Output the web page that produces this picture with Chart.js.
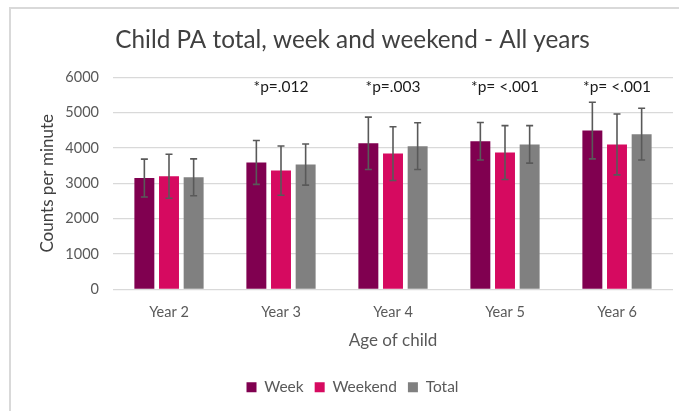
<!DOCTYPE html>
<html>
<head>
<meta charset="utf-8">
<script src="https://cdn.jsdelivr.net/npm/chart.js@4"></script>
<style>
  body { margin: 0; background: #fff; }
  #box {
    position: absolute; left: 9px; top: 7px;
    width: 670px; height: 404px;
    border-top: 2px solid #d9d9d9; border-left: 2px solid #d9d9d9;
  }
  #box canvas { display: block; }
</style>
</head>
<body>
<div id="box"><canvas id="chart" width="670" height="404"></canvas></div>
<script>
  const years = ["Year 2", "Year 3", "Year 4", "Year 5", "Year 6"];
  const week = [3150, 3590, 4130, 4190, 4490];
  const weekend = [3200, 3360, 3840, 3870, 4100];
  const total = [3170, 3530, 4050, 4100, 4390];
  // standard deviations for the error bars
  const weekSd = [535, 620, 740, 530, 800];
  const weekendSd = [620, 695, 760, 760, 860];
  const totalSd = [520, 580, 660, 530, 730];
  // significance labels over each year
  const pLabels = ["", "*p=.012", "*p=.003", "*p= <.001", "*p= <.001"];
  const pLabelY = 5720;

  const FONT = "Lato, 'Open Sans', sans-serif";

  // draws +/- sd whiskers on each bar
  const errorBars = {
    id: "errorBars",
    afterDatasetsDraw(chart) {
      const ctx = chart.ctx;
      const y = chart.scales.y;
      ctx.save();
      ctx.strokeStyle = "#595959";
      ctx.lineWidth = 1.6;
      chart.data.datasets.forEach((ds, i) => {
        const meta = chart.getDatasetMeta(i);
        meta.data.forEach((bar, j) => {
          const v = ds.data[j];
          const sd = ds.sd[j];
          const top = y.getPixelForValue(v + sd);
          const bot = y.getPixelForValue(v - sd);
          ctx.beginPath();
          ctx.moveTo(bar.x, top);
          ctx.lineTo(bar.x, bot);
          ctx.moveTo(bar.x - 3.5, top);
          ctx.lineTo(bar.x + 3.5, top);
          ctx.moveTo(bar.x - 3.5, bot);
          ctx.lineTo(bar.x + 3.5, bot);
          ctx.stroke();
        });
      });
      ctx.restore();
    }
  };

  // p-value text above each group
  const pValues = {
    id: "pValues",
    afterDraw(chart) {
      const ctx = chart.ctx;
      const x = chart.scales.x;
      const y = chart.scales.y;
      ctx.save();
      ctx.font = "15.5px " + FONT;
      ctx.fillStyle = "#1a1a1a";
      ctx.textAlign = "center";
      ctx.textBaseline = "middle";
      pLabels.forEach((t, i) => {
        if (t) ctx.fillText(t, x.getPixelForValue(i), y.getPixelForValue(pLabelY));
      });
      ctx.restore();
    }
  };

  new Chart(document.getElementById("chart"), {
    type: "bar",
    data: {
      labels: years,
      datasets: [
        { label: "Week", data: week, sd: weekSd, backgroundColor: "#800050" },
        { label: "Weekend", data: weekend, sd: weekendSd, backgroundColor: "#d60a60" },
        { label: "Total", data: total, sd: totalSd, backgroundColor: "#808080" },
      ],
    },
    options: {
      responsive: false,
      animation: false,
      categoryPercentage: 0.66,
      barPercentage: 0.81,
      layout: { padding: { left: 21, right: 8, top: 0, bottom: 8 } },
      scales: {
        x: {
          grid: { display: false, drawTicks: false },
          border: { display: false },
          ticks: { color: "#595959", font: { family: FONT, size: 14.5 }, padding: 14 },
          title: {
            display: true,
            text: "Age of child",
            color: "#595959",
            font: { family: FONT, size: 17 },
            padding: { top: 8, bottom: 18 },
          },
          afterFit(s) { s.height = 79; },
        },
        y: {
          min: 0,
          max: 6000,
          ticks: {
            stepSize: 1000,
            color: "#595959",
            font: { family: FONT, size: 14.5 },
            padding: 14,
            callback: (v) => String(v),
          },
          grid: { color: "#d9d9d9", lineWidth: 1.3, drawTicks: false },
          border: { display: false },
          title: {
            display: true,
            text: "Counts per minute",
            color: "#404040",
            font: { family: FONT, size: 17 },
            padding: { top: 5, bottom: 0 },
          },
          afterFit(s) { s.width = 81; },
        },
      },
      plugins: {
        title: {
          display: true,
          text: "Child PA total, week and weekend - All years",
          color: "#404040",
          font: { family: FONT, size: 24.3, weight: "normal" },
          padding: { top: 17, bottom: 22 },
        },
        legend: {
          position: "bottom",
          labels: {
            boxWidth: 10,
            boxHeight: 10,
            padding: 11,
            color: "#595959",
            font: { family: FONT, size: 15.5 },
          },
        },
        tooltip: { enabled: false },
      },
    },
    plugins: [errorBars, pValues],
  });
</script>
</body>
</html>
